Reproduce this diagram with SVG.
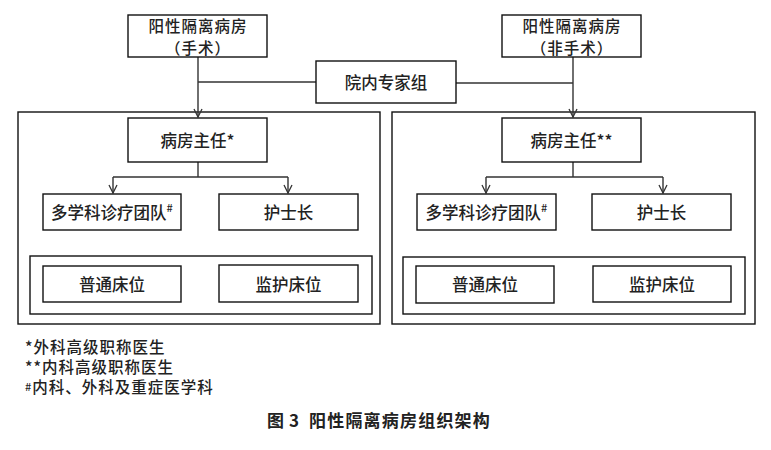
<svg xmlns="http://www.w3.org/2000/svg" width="771" height="450" viewBox="0 0 771 450">
<style>
.box{fill:#fff;stroke:#111;stroke-width:1.4}
.frame{fill:none;stroke:#111;stroke-width:1.4}
.t{font-family:"Noto Sans CJK SC","Liberation Sans",sans-serif;font-size:16.5px;font-weight:500;fill:#222;text-anchor:middle;dominant-baseline:central}
.t2{font-size:15.5px;letter-spacing:1px}
.note{font-family:"Noto Sans CJK SC","Liberation Sans",sans-serif;font-size:15.5px;letter-spacing:1px;font-weight:500;fill:#222}
.cap{font-family:"Noto Sans CJK SC","Liberation Sans",sans-serif;font-size:17px;font-weight:700;fill:#222}
.ln{fill:none;stroke:#333;stroke-width:1.4}
.sup{font-size:11px}
</style>
<defs>
<marker id="arr" viewBox="0 0 10 10" refX="9" refY="5" markerWidth="10" markerHeight="10" markerUnits="userSpaceOnUse" orient="auto">
<path d="M1,1 L9,5 L1,9" fill="none" stroke="#333" stroke-width="1.3"/>
</marker>
</defs>
<rect x="0" y="0" width="771" height="450" fill="#fff"/>
<g id="frames">
<rect id="leftFrame" class="frame" x="18" y="112" width="362" height="212"/>
<rect id="rightFrame" class="frame" x="392" y="112" width="363" height="212"/>
<rect id="leftBeds" class="frame" x="30" y="256" width="342" height="58"/>
<rect id="rightBeds" class="frame" x="403" y="257" width="342" height="57"/>
</g>
<g id="connectors">
<path class="ln" d="M198,57 V117" marker-end="url(#arr)"/>
<path class="ln" d="M198,82 H316"/>
<path class="ln" d="M573,57 V117" marker-end="url(#arr)"/>
<path class="ln" d="M456,83 H573"/>
<path class="ln" d="M198,162 V177 M113,177 H288"/>
<path class="ln" d="M113,177 V193" marker-end="url(#arr)"/>
<path class="ln" d="M288,177 V193" marker-end="url(#arr)"/>
<path class="ln" d="M573,162 V177 M486,177 H663"/>
<path class="ln" d="M486,177 V193" marker-end="url(#arr)"/>
<path class="ln" d="M663,177 V193" marker-end="url(#arr)"/>
</g>
<g id="wardSurgery">
<rect class="box" x="128" y="15" width="139" height="42"/>
<text class="t t2" x="198" y="25">阳性隔离病房</text>
<text class="t t2" x="198" y="47">（手术）</text>
</g>
<g id="wardNonSurgery">
<rect class="box" x="502" y="15" width="139" height="42"/>
<text class="t t2" x="572" y="25">阳性隔离病房</text>
<text class="t t2" x="572" y="47">（非手术）</text>
</g>
<g id="expertGroup">
<rect class="box" x="316" y="61" width="140" height="42"/>
<text class="t" x="386" y="82">院内专家组</text>
</g>
<g id="directorLeft">
<rect class="box" x="128" y="118" width="139" height="44"/>
<text class="t" x="197.5" y="140">病房主任*</text>
</g>
<g id="directorRight">
<rect class="box" x="502" y="118" width="139" height="44"/>
<text class="t" x="571.5" y="140">病房主任**</text>
</g>
<g id="mdtLeft">
<rect class="box" x="43" y="194" width="138" height="36"/>
<text class="t" x="112" y="212">多学科诊疗团队<tspan class="sup" dy="-5">#</tspan></text>
</g>
<g id="nurseLeft">
<rect class="box" x="219" y="194" width="139" height="36"/>
<text class="t" x="288.5" y="212">护士长</text>
</g>
<g id="mdtRight">
<rect class="box" x="417" y="194" width="139" height="36"/>
<text class="t" x="486.5" y="212">多学科诊疗团队<tspan class="sup" dy="-5">#</tspan></text>
</g>
<g id="nurseRight">
<rect class="box" x="592" y="194" width="139" height="36"/>
<text class="t" x="661.5" y="212">护士长</text>
</g>
<g id="bedNormalLeft">
<rect class="box" x="43" y="266" width="138" height="36"/>
<text class="t" x="112" y="284">普通床位</text>
</g>
<g id="bedMonitorLeft">
<rect class="box" x="219" y="265" width="139" height="37"/>
<text class="t" x="288.5" y="284">监护床位</text>
</g>
<g id="bedNormalRight">
<rect class="box" x="416" y="266" width="138" height="37"/>
<text class="t" x="485" y="284">普通床位</text>
</g>
<g id="bedMonitorRight">
<rect class="box" x="593" y="266" width="138" height="36"/>
<text class="t" x="662" y="284">监护床位</text>
</g>
<g id="notes">
<text class="note" x="25" y="353">*外科高级职称医生</text>
<text class="note" x="25" y="373">**内科高级职称医生</text>
<text class="note" x="25" y="393"><tspan class="sup" dy="-2">#</tspan><tspan dy="2">内科、外科及重症医学科</tspan></text>
</g>
<g id="caption">
<text class="cap" y="427"><tspan x="267">图</tspan><tspan x="289">3</tspan><tspan x="309" letter-spacing="1.2">阳性隔离病房组织架构</tspan></text>
</g>
</svg>
